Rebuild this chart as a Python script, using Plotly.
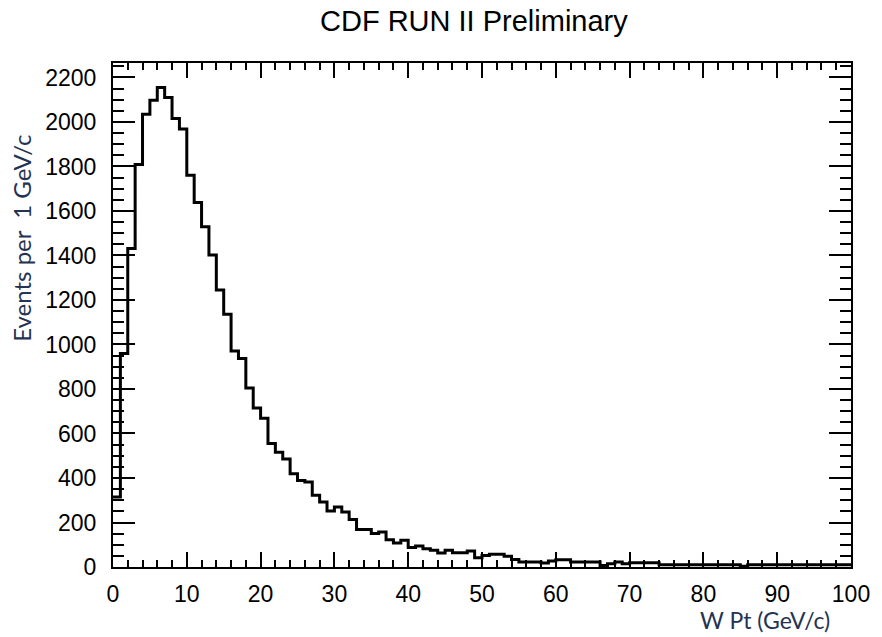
import numpy as np
import plotly.graph_objects as go

# W Pt histogram, 1 GeV bins from 0 to 100 GeV/c
bin_width = 1.0
x_min, x_max = 0, 100
counts = [
    315, 959, 1431, 1809, 2035, 2098, 2155, 2110, 2016, 1968,
    1761, 1638, 1529, 1402, 1245, 1136, 971, 937, 804, 714,
    669, 555, 516, 485, 419, 389, 382, 322, 292, 252,
    270, 247, 213, 168, 168, 150, 157, 123, 108, 120,
    88, 94, 82, 75, 63, 75, 64, 64, 72, 42,
    52, 57, 57, 48, 34, 22, 22, 22, 18, 27,
    33, 33, 22, 22, 22, 22, 7, 15, 22, 15,
    19, 19, 19, 19, 10, 10, 10, 10, 10, 10,
    10, 10, 10, 10, 10, 3, 10, 10, 10, 10,
    10, 10, 10, 10, 10, 10, 10, 10, 10, 10,
]
title_text = "CDF RUN II Preliminary"
x_title = "W Pt (GeV/c)"
y_title = "Events per  1 GeV/c"

edges = np.arange(x_min, x_max + bin_width, bin_width)
y_step = counts + [counts[-1]]

W, H = 882, 637
ml, mr, mt, mb = 113, 25, 63, 70
pw, ph = W - ml - mr, H - mt - mb


def px_x(px):
    return (px - ml) / pw


def px_y(py):
    return ((H - mb) - py) / ph


fig = go.Figure()
fig.add_trace(go.Scatter(
    x=edges, y=y_step, mode="lines", line_shape="hv",
    line=dict(color="black", width=3), showlegend=False, hoverinfo="skip",
))

tick_font = dict(family="Liberation Sans, Arial, sans-serif", size=23, color="black")

fig.update_layout(
    width=W, height=H,
    margin=dict(l=ml, r=mr, t=mt, b=mb),
    paper_bgcolor="white", plot_bgcolor="white",
    xaxis=dict(
        range=[0, 100], tickmode="linear", tick0=0, dtick=10,
        ticks="inside", ticklen=15, tickwidth=1.5, tickcolor="black",
        minor=dict(ticks="inside", ticklen=7, tickwidth=1.5, tickcolor="black", dtick=2),
        showline=True, linewidth=2, linecolor="black", mirror="allticks",
        showgrid=False, zeroline=False, tickfont=tick_font, ticklabelstandoff=5,
    ),
    yaxis=dict(
        range=[0, 2265], tickmode="linear", tick0=0, dtick=200,
        ticks="inside", ticklen=22, tickwidth=1.5, tickcolor="black",
        minor=dict(ticks="inside", ticklen=11, tickwidth=1.5, tickcolor="black", dtick=50),
        showline=True, linewidth=2, linecolor="black", mirror="allticks",
        showgrid=False, zeroline=False, tickfont=tick_font, ticklabelstandoff=10,
    ),
    annotations=[
        dict(text=title_text, xref="paper", yref="paper",
             x=px_x(477), y=px_y(21),
             xanchor="center", yanchor="middle", showarrow=False,
             font=dict(family="Liberation Sans, Arial, sans-serif", size=29, color="black")),
        dict(text=x_title, xref="paper", yref="paper",
             x=px_x(770), y=px_y(620),
             xanchor="center", yanchor="middle", showarrow=False,
             font=dict(family="Lato, Open Sans, sans-serif", size=23, color="#243352")),
        dict(text=y_title, xref="paper", yref="paper",
             x=px_x(20), y=px_y(238),
             xanchor="center", yanchor="middle", showarrow=False, textangle=-90,
             font=dict(family="Lato, Open Sans, sans-serif", size=24, color="#243352")),
    ],
)

fig.write_html("out.html")
